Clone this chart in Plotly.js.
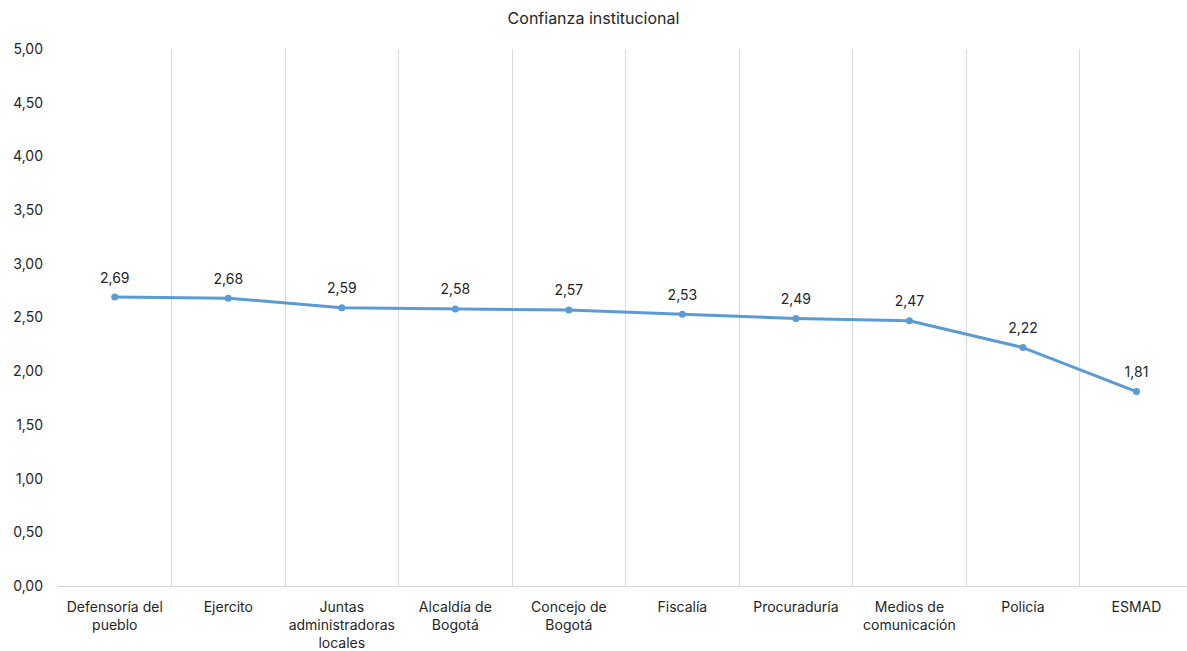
<!DOCTYPE html>
<html>
<head>
<meta charset="utf-8">
<script src="https://cdn.plot.ly/plotly-3.0.1.min.js"></script>
<style>html,body{margin:0;padding:0;overflow:hidden;background:#fff}</style>
</head>
<body>
<div id="chart" style="width:1187px;height:651px"></div>
<script>
const categories = ["Defensoría del<br>pueblo", "Ejercito", "Juntas<br>administradoras<br>locales", "Alcaldía de<br>Bogotá", "Concejo de<br>Bogotá", "Fiscalía", "Procuraduría", "Medios de<br>comunicación", "Policía", "ESMAD"];
const values = [2.69, 2.68, 2.59, 2.58, 2.57, 2.53, 2.49, 2.47, 2.22, 1.81];
const yTicks = [0, 0.5, 1, 1.5, 2, 2.5, 3, 3.5, 4, 4.5, 5];

const FONT = 'Inter, "Noto Sans", sans-serif';

const lineTrace = {
  x: categories,
  y: values,
  type: 'scatter',
  mode: 'lines+markers',
  line: {color: '#5b9bd5', width: 3},
  marker: {color: '#5b9bd5', size: 7},
  hoverinfo: 'skip'
};

const labelTrace = {
  x: categories,
  y: values,
  type: 'scatter',
  mode: 'markers+text',
  marker: {color: 'rgba(0,0,0,0)', size: 16},
  texttemplate: '%{y:.2f}',
  textposition: 'top center',
  textfont: {family: FONT, size: 14, color: '#262626'},
  cliponaxis: false,
  hoverinfo: 'skip'
};

const layout = {
  width: 1187, height: 651,
  margin: {l: 58, r: 0, t: 49, b: 65},
  separators: ',.',
  paper_bgcolor: '#ffffff', plot_bgcolor: '#ffffff',
  font: {family: FONT, size: 14, color: '#262626'},
  title: {text: 'Confianza institucional', x: 0.5, xanchor: 'center', y: 0.972, yanchor: 'middle', font: {size: 16, color: '#262626'}},
  showlegend: false,
  xaxis: {
    type: 'category',
    range: [-0.5, 9.445],
    tickson: 'boundaries',
    tickangle: 0,
    ticklabelstandoff: 8,
    showgrid: true, gridcolor: '#d9d9d9', gridwidth: 1,
    showline: true, linecolor: '#d9d9d9', linewidth: 1,
    ticks: '', ticklen: 0,
    zeroline: false,
    tickfont: {size: 14, color: '#262626'},
    fixedrange: true
  },
  yaxis: {
    range: [0, 5],
    tickvals: yTicks,
    tickformat: '.2f',
    ticklabelstandoff: 14,
    showgrid: false,
    zeroline: false,
    showline: false,
    ticks: '',
    tickfont: {size: 14, color: '#262626'},
    fixedrange: true
  }
};

Plotly.newPlot('chart', [lineTrace, labelTrace], layout, {displayModeBar: false, staticPlot: true});
</script>
</body>
</html>
